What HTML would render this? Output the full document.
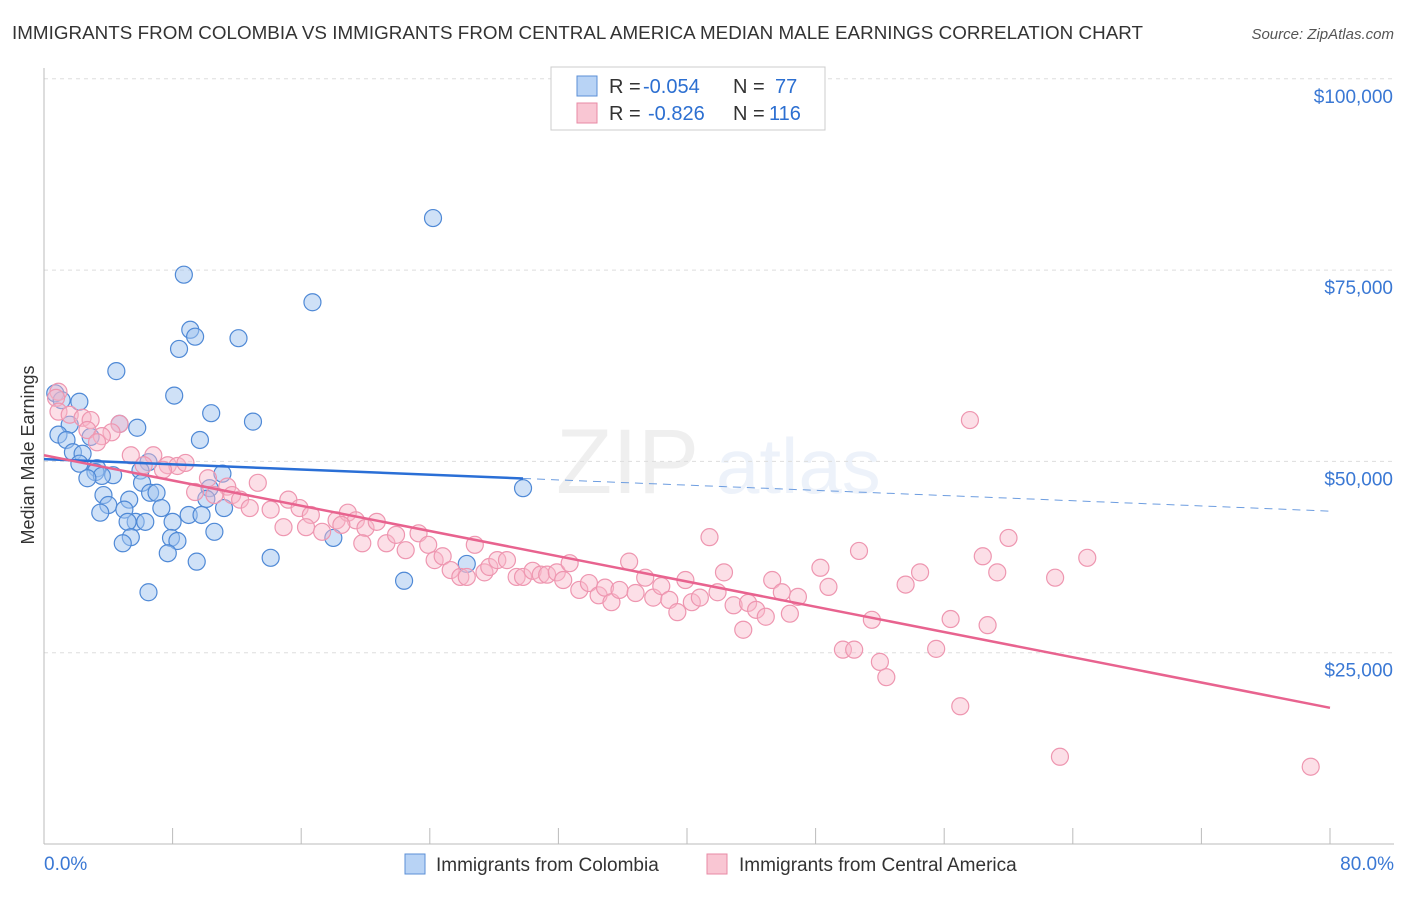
<!DOCTYPE html>
<html><head><meta charset="utf-8"><style>
body{margin:0;background:#fff;font-family:"Liberation Sans",sans-serif}
svg text{font-family:"Liberation Sans",sans-serif}
</style></head><body>
<svg id="chart" width="1406" height="892" viewBox="0 0 1406 892">
<text x="12" y="39" font-size="18.8" fill="#333" textLength="1131">IMMIGRANTS FROM COLOMBIA VS IMMIGRANTS FROM CENTRAL AMERICA MEDIAN MALE EARNINGS CORRELATION CHART</text>
<text x="1394" y="39" font-size="15" fill="#555" text-anchor="end" font-style="italic">Source: ZipAtlas.com</text>
<g opacity="0.15">
<text x="556" y="493" font-size="92" fill="#999" font-family="Liberation Serif">ZIP</text>
<text x="716" y="493" font-size="78" fill="#8ab0e0">atlas</text>
</g>
<g id="grid"></g><g id="axes"></g><g id="pts"></g><g id="lines"></g>
<text transform="translate(34,455) rotate(-90)" font-size="18" fill="#333" text-anchor="middle">Median Male Earnings</text>
<g>
<rect x="551" y="67" width="274" height="63" fill="#fff" stroke="#ccc"/>
<rect x="577" y="76" width="20" height="20" fill="#b8d3f5" stroke="#5b8fd6"/>
<rect x="577" y="103" width="20" height="20" fill="#f9c6d3" stroke="#e88aa5"/>
<text x="609" y="93" font-size="20" fill="#333">R =</text>
<text x="643" y="93" font-size="20" fill="#2c6fd1">-0.054</text>
<text x="733" y="93" font-size="20" fill="#333">N =</text>
<text x="775" y="93" font-size="20" fill="#2c6fd1">77</text>
<text x="609" y="120" font-size="20" fill="#333">R =</text>
<text x="648" y="120" font-size="20" fill="#2c6fd1">-0.826</text>
<text x="733" y="120" font-size="20" fill="#333">N =</text>
<text x="769" y="120" font-size="20" fill="#2c6fd1">116</text>
</g>
<g>
<rect x="405" y="854" width="20" height="20" fill="#b8d3f5" stroke="#5b8fd6"/>
<text x="436" y="871" font-size="19" fill="#333">Immigrants from Colombia</text>
<rect x="707" y="854" width="20" height="20" fill="#f9c6d3" stroke="#e88aa5"/>
<text x="739" y="871" font-size="19" fill="#333">Immigrants from Central America</text>
</g>
</svg>
<script>
const yTicks=[25,50,75,100];
const yTickLabels=["$25,000","$50,000","$75,000","$100,000"];
const xTickLabels=["0.0%","80.0%"];
const blueX=[24.2,8.7,16.7,9.1,9.4,12.1,8.4,4.5,8.1,0.7,1.1,2.2,10.4,13.0,4.7,5.8,1.6,0.9,2.9,1.4,9.7,1.8,2.4,2.2,6.5,3.3,3.2,4.3,6.0,3.6,2.7,11.1,6.1,10.3,29.8,6.6,7.0,3.7,5.3,4.0,10.1,7.3,11.2,3.5,5.0,9.0,9.8,5.7,5.2,6.3,8.0,10.6,5.4,7.9,8.3,4.9,18.0,7.7,9.5,14.1,26.3,22.4,6.5];
const blueY=[81.8,74.4,70.8,67.2,66.3,66.1,64.7,61.8,58.6,58.9,58.0,57.8,56.3,55.2,54.9,54.4,54.8,53.5,53.2,52.8,52.8,51.2,51.0,49.7,49.9,49.1,48.6,48.2,48.8,48.1,47.8,48.4,47.2,46.5,46.5,45.9,45.9,45.6,45.0,44.3,45.1,43.9,43.9,43.3,43.7,43.0,43.0,42.1,42.1,42.1,42.1,40.8,40.1,40.0,39.6,39.3,40.0,38.0,36.9,37.4,36.6,34.4,32.9];
const pinkX=[0.9,0.75,0.9,1.6,2.4,2.9,2.7,4.7,4.2,3.6,3.3,6.8,5.4,6.2,7.7,8.3,8.8,7.4,10.2,11.4,13.3,9.4,10.6,11.7,12.2,15.2,12.8,14.1,15.9,16.6,14.9,16.3,17.3,18.2,18.9,19.4,18.5,20.0,20.7,19.8,21.3,21.9,22.5,23.3,23.9,24.3,24.8,25.3,25.9,26.3,26.8,27.4,27.7,28.2,28.8,29.4,29.8,30.4,30.9,31.3,31.9,32.3,32.7,33.3,33.9,34.5,34.9,35.3,35.8,36.4,36.8,37.4,37.9,38.4,38.9,39.4,39.9,40.3,40.8,41.4,41.9,42.3,42.9,43.5,43.8,44.3,44.9,45.3,45.9,46.4,46.9,48.3,48.8,49.7,50.4,50.7,51.5,52.0,52.4,53.6,54.5,55.5,56.4,57.0,57.6,58.4,58.7,59.3,60.0,62.9,63.2,64.9,78.8];
const pinkY=[59.1,58.3,56.5,56.1,55.7,55.4,54.1,54.9,53.8,53.3,52.5,50.8,50.8,49.5,49.5,49.4,49.8,48.9,47.8,46.7,47.2,46.0,45.6,45.6,45.0,45.0,43.9,43.7,43.9,43.0,41.4,41.4,40.8,42.3,43.3,42.3,41.7,41.3,42.1,39.3,39.3,40.4,38.4,40.6,39.1,37.1,37.6,35.8,34.9,34.9,39.1,35.5,36.2,37.1,37.1,34.9,34.9,35.7,35.2,35.2,35.5,34.5,36.7,33.2,34.1,32.5,33.5,31.6,33.2,36.9,32.8,34.8,32.2,33.7,31.9,30.3,34.5,31.6,32.2,40.1,32.9,35.5,31.2,28.0,31.5,30.6,29.7,34.5,32.9,30.1,32.3,36.1,33.6,25.4,25.4,38.3,29.3,23.8,21.8,33.9,35.5,25.5,29.4,18.0,55.4,37.6,28.6,35.5,40.0,34.8,11.4,37.4,10.1];
const blueTrend=[50.3,43.5];
const blueSolidEnd=29.8;
const pinkTrend=[50.8,17.8];
const X0=44,X1=1330,Y0=844,PY=191.3/25;
const sx=v=>X0+(X1-X0)*v/80, sy=v=>Y0-v*PY;
const NS="http://www.w3.org/2000/svg";
function mk(t,a,p){const e=document.createElementNS(NS,t);for(const k in a)e.setAttribute(k,a[k]);p.appendChild(e);return e;}
const G=document.getElementById('grid'),A=document.getElementById('axes'),P=document.getElementById('pts'),L=document.getElementById('lines');
yTicks.forEach((t,i)=>{
 const g=mk('line',{x1:X0,x2:1394,y1:sy(t),y2:sy(t),stroke:'#ddd','stroke-dasharray':'4,4'},G);
 
 
 const tx=mk('text',{x:1393,y:sy(t)+24,'font-size':19,fill:'#3a78d4','text-anchor':'end'},A);
 tx.textContent=yTickLabels[i];
 
 
});
const ax=mk('line',{x1:X0,x2:X0,y1:68,y2:Y0,stroke:'#bbb'},A);


const bx=mk('line',{x1:X0,x2:1394,y1:Y0,y2:Y0,stroke:'#bbb'},A);


for(let i=0;i<=10;i++){
 const tk=mk('line',{x1:sx(i*8),x2:sx(i*8),y1:Y0,y2:Y0-16,stroke:'#bbb'},A);
 
 
}
[[0,'start',44],[80,'end',1394]].forEach((d,i)=>{
 const t=mk('text',{x:d[2],y:870,'font-size':19,fill:'#3a78d4','text-anchor':d[1]},A);
 t.textContent=xTickLabels[i];
 
 
});
blueX.forEach((x,i)=>{
 const c=mk('circle',{cx:sx(x),cy:sy(blueY[i]),r:8.5,fill:'rgba(160,196,240,0.5)',stroke:'#4f89d6','stroke-width':1.2},P);
 
 
});
pinkX.forEach((x,i)=>{
 const c=mk('circle',{cx:sx(x),cy:sy(pinkY[i]),r:8.5,fill:'rgba(248,184,202,0.45)',stroke:'#ee96b0','stroke-width':1.2},P);
 
 
});
const bAt=v=>blueTrend[0]+(blueTrend[1]-blueTrend[0])*v/80;
const l1=mk('line',{x1:sx(0),y1:sy(bAt(0)),x2:sx(blueSolidEnd),y2:sy(bAt(blueSolidEnd)),stroke:'#2a6fd6','stroke-width':2.5},L);


const l2=mk('line',{x1:sx(blueSolidEnd),y1:sy(bAt(blueSolidEnd)),x2:sx(80),y2:sy(bAt(80)),stroke:'#6d9de0','stroke-width':1,'stroke-dasharray':'8,6'},L);


const l3=mk('line',{x1:sx(0),y1:sy(pinkTrend[0]),x2:sx(80),y2:sy(pinkTrend[1]),stroke:'#e8638f','stroke-width':2.5},L);


</script>
</body></html>
